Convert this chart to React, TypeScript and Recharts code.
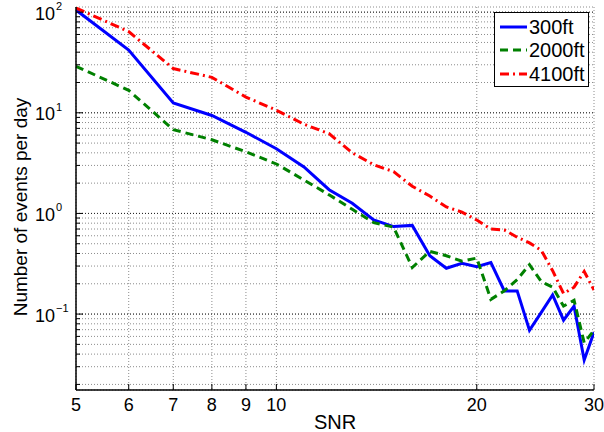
import React from "react";
import {
  LineChart,
  Line,
  XAxis,
  YAxis,
  CartesianGrid,
  ReferenceLine,
  Legend,
} from "recharts";

const SNR = [5, 6, 7, 8, 9, 10, 11, 12, 13, 14, 15, 16, 17, 18, 19, 20, 21, 22, 23, 24, 25, 26, 27, 28, 29, 30];
const EVENTS_300FT = [
  105, 42, 12.5, 9.4, 6.4, 4.4, 2.9, 1.72, 1.26, 0.86, 0.74, 0.76, 0.38,
  0.285, 0.32, 0.295, 0.325, 0.17, 0.17, 0.069, 0.104, 0.155, 0.087, 0.12, 0.035, 0.066,
];
const EVENTS_2000FT = [
  29, 16.7, 6.8, 5.4, 4.1, 3.1, 2.15, 1.53, 1.1, 0.81, 0.73, 0.29, 0.42,
  0.38, 0.335, 0.36, 0.14, 0.17, 0.22, 0.31, 0.21, 0.185, 0.12, 0.137, 0.052, 0.069,
];
const EVENTS_4100FT = [
  110, 64, 27.5, 22.5, 14.3, 10.6, 7.7, 6.2, 4.0, 3.05, 2.6, 1.86, 1.49,
  1.16, 1.03, 0.86, 0.7, 0.685, 0.58, 0.51, 0.43, 0.27, 0.16, 0.185, 0.265, 0.173,
];
const SERIES_NAMES = ["300ft", "2000ft", "4100ft"];

const X_TICKS = [5, 6, 7, 8, 9, 10, 20, 30];
const Y_DECADES = [0.1, 1, 10, 100];
const Y_MINOR = [
  0.02, 0.03, 0.04, 0.05, 0.06, 0.07, 0.08, 0.09,
  0.2, 0.3, 0.4, 0.5, 0.6, 0.7, 0.8, 0.9,
  2, 3, 4, 5, 6, 7, 8, 9,
  20, 30, 40, 50, 60, 70, 80, 90,
];
const Y_TICKS = [...Y_MINOR, ...Y_DECADES].sort((a, b) => a - b);
const X_DOMAIN = [5, 30];
const Y_DOMAIN = [0.0176, 112.5];

const FONT = '"Liberation Sans", Arial, Helvetica, sans-serif';

const SERIES = [
  { key: "ft300", name: SERIES_NAMES[0], color: "#0000ff", dash: undefined as string | undefined },
  { key: "ft2000", name: SERIES_NAMES[1], color: "#008000", dash: "8 5" },
  { key: "ft4100", name: SERIES_NAMES[2], color: "#ff0000", dash: "9 4 2 4" },
];

const data = SNR.map((snr, i) => ({
  snr,
  ft300: EVENTS_300FT[i],
  ft2000: EVENTS_2000FT[i],
  ft4100: EVENTS_4100FT[i],
}));

const expLabel = (v: number) => {
  const e = Math.round(Math.log10(v));
  return e < 0 ? `\u2212${-e}` : `${e}`;
};

const LeftTick = (props: any) => {
  const { x, y, payload } = props;
  const major = Y_DECADES.includes(payload.value);
  return (
    <g>
      <line x1={x} x2={x + (major ? 7 : 4)} y1={y} y2={y} stroke="#000" />
      {major && (
        <text x={x - 41} y={y + 7.5} fontSize={18} fontFamily={FONT} fill="#000">
          10
          <tspan dx={1} dy={-9.5} fontSize={11}>
            {expLabel(payload.value)}
          </tspan>
        </text>
      )}
    </g>
  );
};

const RightTick = (props: any) => {
  const { x, y, payload } = props;
  const major = Y_DECADES.includes(payload.value);
  return <line x1={x} x2={x - (major ? 7 : 4)} y1={y} y2={y} stroke="#000" />;
};

const BottomTick = (props: any) => {
  const { x, y, payload } = props;
  return (
    <g>
      <line x1={x} x2={x} y1={y} y2={y - 6} stroke="#000" />
      <text x={x} y={y + 21} textAnchor="middle" fontSize={18} fontFamily={FONT} fill="#000">
        {payload.value}
      </text>
    </g>
  );
};

const TopTick = (props: any) => {
  const { x, y } = props;
  return <line x1={x} x2={x} y1={y} y2={y + 6} stroke="#000" />;
};

const LegendBox = () => (
  <div
    style={{
      boxSizing: "border-box",
      width: 95,
      height: 75,
      border: "1.5px solid #000",
      background: "#fff",
      paddingTop: 2,
      fontFamily: FONT,
      fontSize: 20,
      color: "#000",
    }}
  >
    {SERIES.map((s) => (
      <div key={s.key} style={{ display: "flex", alignItems: "center", height: 23.5 }}>
        <svg width={34} height={10} style={{ display: "block" }}>
          <line x1={5} x2={32} y1={5} y2={5} stroke={s.color} strokeWidth={3} strokeDasharray={s.dash} />
        </svg>
        <span style={{ lineHeight: 1 }}>{s.name}</span>
      </div>
    ))}
  </div>
);

export default function App() {
  return (
    <div style={{ position: "absolute", left: 0, top: 0, width: 604, height: 432, background: "#fff", fontFamily: FONT }}>
      <LineChart width={604} height={432} data={data} margin={{ top: 7, right: 10, bottom: 0, left: 0 }}>
        <CartesianGrid stroke="#8c8c8c" strokeDasharray="1 2" />
        {Y_DECADES.map((d) => (
          <ReferenceLine key={d} y={d} stroke="#222" strokeDasharray="1 2" />
        ))}
        <XAxis
          dataKey="snr"
          type="number"
          scale="log"
          domain={X_DOMAIN}
          allowDataOverflow
          ticks={X_TICKS}
          height={42}
          tickSize={0}
          tickMargin={0}
          tickLine={false}
          tick={BottomTick}
          axisLine={{ stroke: "#000", strokeWidth: 1.5 }}
          interval={0}
          label={{
            content: (p: any) => (
              <text
                x={p.viewBox.x + p.viewBox.width / 2}
                y={p.viewBox.y + 39}
                textAnchor="middle"
                fontSize={20}
                fontFamily={FONT}
                fill="#000"
              >
                SNR
              </text>
            ),
          }}
        />
        <XAxis
          xAxisId="top"
          orientation="top"
          dataKey="snr"
          type="number"
          scale="log"
          domain={X_DOMAIN}
          allowDataOverflow
          ticks={X_TICKS}
          height={0}
          tickSize={0}
          tickMargin={0}
          tickLine={false}
          tick={TopTick}
          axisLine={{ stroke: "#000", strokeWidth: 1.5 }}
          interval={0}
        />
        <YAxis
          type="number"
          scale="log"
          domain={Y_DOMAIN}
          allowDataOverflow
          ticks={Y_TICKS}
          width={76}
          tickSize={0}
          tickMargin={0}
          tickLine={false}
          tick={LeftTick}
          axisLine={{ stroke: "#000", strokeWidth: 1.5 }}
          interval={0}
          label={{
            content: () => (
              <text
                x={27}
                y={207}
                transform="rotate(-90 27 207)"
                textAnchor="middle"
                fontSize={19}
                fontFamily={FONT}
                fill="#000"
              >
                Number of events per day
              </text>
            ),
          }}
        />
        <YAxis
          yAxisId="right"
          orientation="right"
          type="number"
          scale="log"
          domain={Y_DOMAIN}
          allowDataOverflow
          ticks={Y_TICKS}
          width={0}
          tickSize={0}
          tickMargin={0}
          tickLine={false}
          tick={RightTick}
          axisLine={{ stroke: "#000", strokeWidth: 1.5 }}
          interval={0}
        />
        {SERIES.map((s) => (
          <Line
            key={s.key}
            type="linear"
            dataKey={s.key}
            name={s.name}
            stroke={s.color}
            strokeWidth={3}
            strokeDasharray={s.dash}
            dot={false}
            activeDot={false}
            isAnimationActive={false}
          />
        ))}
        <Legend
          layout="vertical"
          align="center"
          verticalAlign="middle"
          wrapperStyle={{ top: 12, left: 494, width: 95, height: 75 }}
          content={LegendBox}
        />
      </LineChart>
    </div>
  );
}
